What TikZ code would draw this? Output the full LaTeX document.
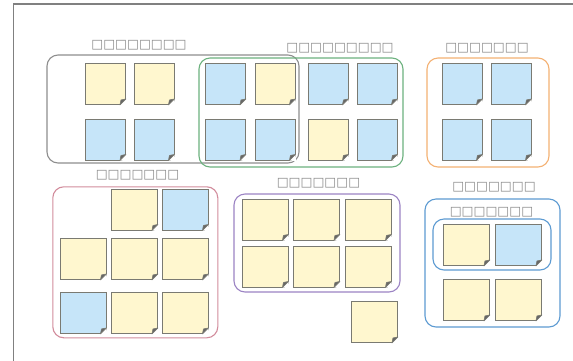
\documentclass[tikz,border=0pt]{standalone}
\usepackage{fontspec}
\newfontfamily\symfont{DejaVu Sans}
\definecolor{noteY}{HTML}{FFF7CF}
\definecolor{noteB}{HTML}{C6E5F9}
\definecolor{noteLine}{HTML}{7A7A72}
\definecolor{gGray}{HTML}{8E8E8E}
\definecolor{gGreen}{HTML}{6DB27F}
\definecolor{gOrange}{HTML}{F4B173}
\definecolor{gPink}{HTML}{D28C9C}
\definecolor{gPurple}{HTML}{9C84C4}
\definecolor{gBlue}{HTML}{5D9BD2}
\definecolor{lblGray}{HTML}{8A8A8A}
\begin{document}
\begin{tikzpicture}[x=1pt,y=-1pt,
  note/.style={draw=noteLine, line width=0.9pt, inner sep=0pt, minimum width=40pt, minimum height=41pt},
  bignote/.style={note, minimum width=46pt, minimum height=41pt},
  yel/.style={fill=noteY},
  blu/.style={fill=noteB},
  grp/.style={draw, line width=1.1pt, rounded corners=11pt, inner sep=0pt},
  lbl/.style={text=lblGray, font=\symfont\fontsize{12.6}{13}\selectfont, inner sep=0pt}
]
\useasboundingbox (0,0) rectangle (573,360);
\clip (0,0) rectangle (573,360);
\fill[white] (0,0) rectangle (573,360);
% outer frame
\draw[gGray!90!black, line width=1.2pt] (13.5,4) rectangle (620,420);

% groups
\node[grp, draw=gGray, minimum width=252pt, minimum height=108pt] (g1) at (173,109) {};
\node[grp, draw=gGreen, minimum width=204pt, minimum height=109pt] (g2) at (301,112.5) {};
\node[grp, draw=gOrange, minimum width=122pt, minimum height=109pt] (g3) at (488,112.5) {};
\node[grp, draw=gPink, minimum width=165pt, minimum height=151pt] (g4) at (135.3,262.3) {};
\node[grp, draw=gPurple, minimum width=166pt, minimum height=98pt] (g5) at (317,243) {};
\node[grp, draw=gBlue, minimum width=135pt, minimum height=128pt] (g6) at (492.5,263) {};
\node[grp, draw=gBlue, minimum width=118pt, minimum height=51pt] (g7) at (492,244.5) {};

% labels
\node[lbl] (l1) at (139,45.5) {□□□□□□□□};
\node[lbl] (l2) at (340,48) {□□□□□□□□□};
\node[lbl] (l3) at (487,48) {□□□□□□□};
\node[lbl] (l4) at (137.5,175) {□□□□□□□};
\node[lbl] (l5) at (318.5,183) {□□□□□□□};
\node[lbl] (l6) at (494,187.5) {□□□□□□□};
\node[lbl] (l7) at (491.5,212) {□□□□□□□};

% top notes
\node[note,yel] (a1) at (105.5,84) {};
\node[note,yel] (a2) at (154,84) {};
\node[note,blu] (a3) at (225.5,84) {};
\node[note,yel] (a4) at (275,84) {};
\node[note,blu] (a5) at (328,84) {};
\node[note,blu] (a6) at (377,84) {};
\node[note,blu] (a7) at (462,84) {};
\node[note,blu] (a8) at (511,84) {};
\node[note,blu] (b1) at (105.5,139.5) {};
\node[note,blu] (b2) at (154,139.5) {};
\node[note,blu] (b3) at (225.5,139.5) {};
\node[note,blu] (b4) at (275,139.5) {};
\node[note,yel] (b5) at (328,139.5) {};
\node[note,blu] (b6) at (377,139.5) {};
\node[note,blu] (b7) at (462,139.5) {};
\node[note,blu] (b8) at (511,139.5) {};
% pink group notes
\node[bignote,yel] (c2) at (134.5,209.5) {};
\node[bignote,blu] (c3) at (185,209.5) {};
\node[bignote,yel] (d1) at (83,259) {};
\node[bignote,yel] (d2) at (134.5,259) {};
\node[bignote,yel] (d3) at (185,259) {};
\node[bignote,blu] (e1) at (83,313) {};
\node[bignote,yel] (e2) at (134.5,313) {};
\node[bignote,yel] (e3) at (185,313) {};
% purple group notes
\node[bignote,yel] (f1) at (265,219.5) {};
\node[bignote,yel] (f2) at (316.5,219.5) {};
\node[bignote,yel] (f3) at (368,219.5) {};
\node[bignote,yel] (h1) at (265,266.5) {};
\node[bignote,yel] (h2) at (316.5,266.5) {};
\node[bignote,yel] (h3) at (368,266.5) {};
\node[bignote,yel] (k1) at (374.5,322) {};
% blue group notes
\node[bignote,yel] (m1) at (466.5,245) {};
\node[bignote,blu] (m2) at (518.5,245) {};
\node[bignote,yel] (m3) at (466.5,300) {};
\node[bignote,yel] (m4) at (518.5,300) {};

% folded corners
\foreach \n in {a1,a2,a3,a4,a5,a6,a7,a8,b1,b2,b3,b4,b5,b6,b7,b8,c2,c3,d1,d2,d3,e1,e2,e3,f1,f2,f3,h1,h2,h3,k1,m1,m2,m3,m4}{
  \fill[white] ([xshift=-6pt]\n.south east) -- ([xshift=0.8pt,yshift=-0.8pt]\n.south east) -- ([yshift=6pt]\n.south east) -- cycle;
  \filldraw[fill=black!60, draw=noteLine, line width=0.6pt, line join=round] ([xshift=-6pt]\n.south east) -- ([xshift=-5pt,yshift=5pt]\n.south east) -- ([yshift=6pt]\n.south east) -- cycle;
}
\end{tikzpicture}
\end{document}
